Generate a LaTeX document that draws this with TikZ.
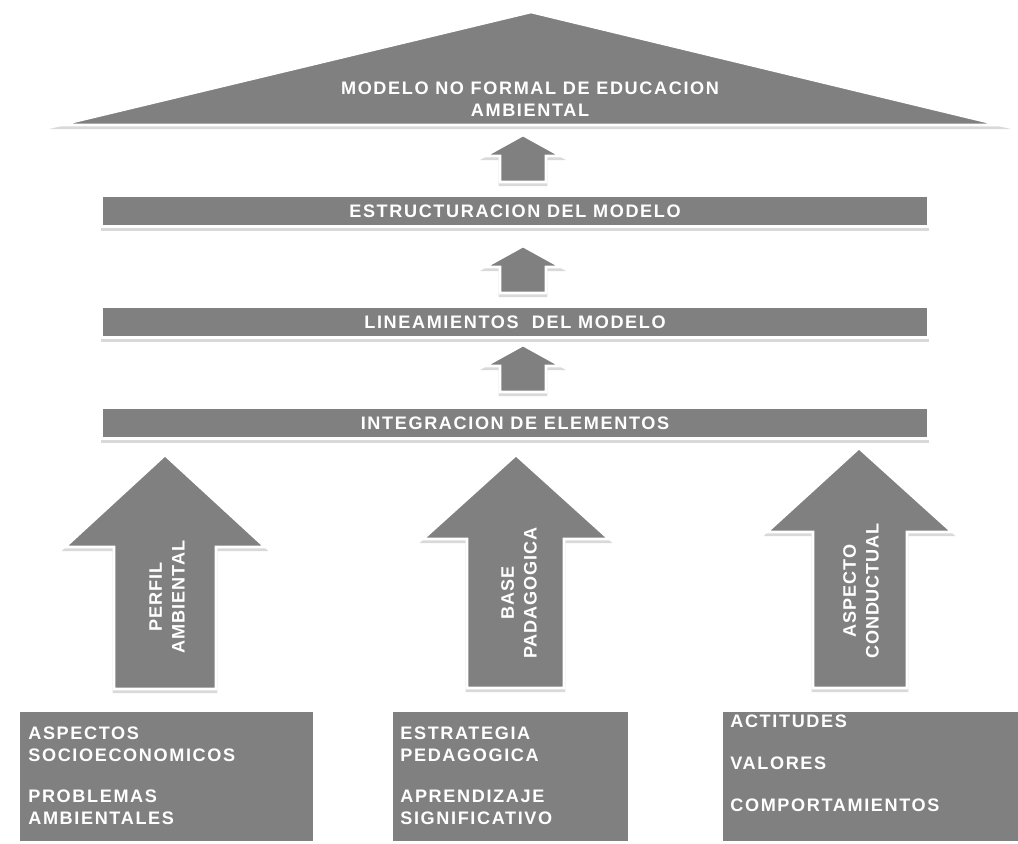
\documentclass[tikz,border=0pt]{standalone}
\usepackage{fontspec}
\usepackage{tikz}
\setmainfont{Liberation Sans}
\newfontfamily\letra{Liberation Sans}[LetterSpace=9]
\newfontfamily\letraflecha{Liberation Sans}[LetterSpace=5]
\definecolor{gris}{RGB}{128,128,128}
\tikzset{
  pieza/.style={fill=gris, draw=white, line width=1.5pt,
    preaction={fill=black!15, draw=black!15, line width=1.5pt, transform canvas={yshift=-1.6pt}}},
  rotulo/.style={text=white, inner sep=0pt, font=\fontsize{10.3}{12.5}\selectfont\letra\bfseries},
  barra/.style={pieza, rotulo, minimum width=16.52cm, minimum height=0.62cm},
  caja/.style={pieza, anchor=north west, minimum height=2.64cm},
  rotuloflecha/.style={text=white, inner sep=0pt, rotate=90, align=center,
    font=\fontsize{10.3}{13}\selectfont\letraflecha\bfseries}
}

\begin{document}
\begin{tikzpicture}[x=0.02cm, y=-0.02cm]
	\useasboundingbox (0,0) rectangle (1018,844);
	% techo
	\path[pieza] (60,125) -- (531,12) -- (1000,125) -- cycle;
	\node[rotulo, align=center] (modelo) at (530,99) {MODELO NO FORMAL DE EDUCACION\\AMBIENTAL};
	% flechas chicas
	\foreach \t in {135,246,345}
		\path[pieza] (523,\t) -- (561,\t+21) -- (546,\t+21) -- (546,\t+47) -- (500,\t+47) -- (500,\t+21) -- (485,\t+21) -- cycle;
	% barras
	\node[barra] (estructura) at (515,211) {ESTRUCTURACION DEL MODELO};
	\node[barra] (lineamientos) at (515,322) {LINEAMIENTOS \ DEL MODELO};
	\node[barra] (integracion) at (515,423) {INTEGRACION DE ELEMENTOS};
	% flechas grandes
	\path[pieza] (165,455) -- (265,547) -- (216,547) -- (216,689) -- (114,689) -- (114,547) -- (65,547) -- cycle;
	\path[pieza] (516,455) -- (609,539) -- (564,539) -- (564,688) -- (467,688) -- (467,539) -- (423,539) -- cycle;
	\path[pieza] (859,448) -- (952,532) -- (907,532) -- (907,688) -- (813,688) -- (813,532) -- (767,532) -- cycle;
	\node[rotuloflecha] (perfil) at (167,597) {PERFIL\\AMBIENTAL};
	\node[rotuloflecha] (base) at (519,593) {BASE\\PADAGOGICA};
	\node[rotuloflecha] (aspecto) at (861,591) {ASPECTO\\CONDUCTUAL};
	% cajas de abajo
	\node[caja, minimum width=5.92cm] (cajaperfil) at (17,709) {};
	\node[caja, minimum width=4.76cm] (cajabase) at (390,709) {};
	\node[caja, minimum width=5.96cm] (cajaaspecto) at (720,709) {};
	\node[rotulo, align=left, anchor=north west] (socio) at (28,727) {ASPECTOS\\SOCIOECONOMICOS\\[10.8pt]PROBLEMAS\\AMBIENTALES};
	\node[rotulo, align=left, anchor=north west] (estrategia) at (400,727) {ESTRATEGIA\\PEDAGOGICA\\[10.8pt]APRENDIZAJE\\SIGNIFICATIVO};
	\node[rotulo, align=left, anchor=north west] (actitudes) at (730,715) {ACTITUDES\\[11.4pt]VALORES\\[11.4pt]COMPORTAMIENTOS};
\end{tikzpicture}
\end{document}
